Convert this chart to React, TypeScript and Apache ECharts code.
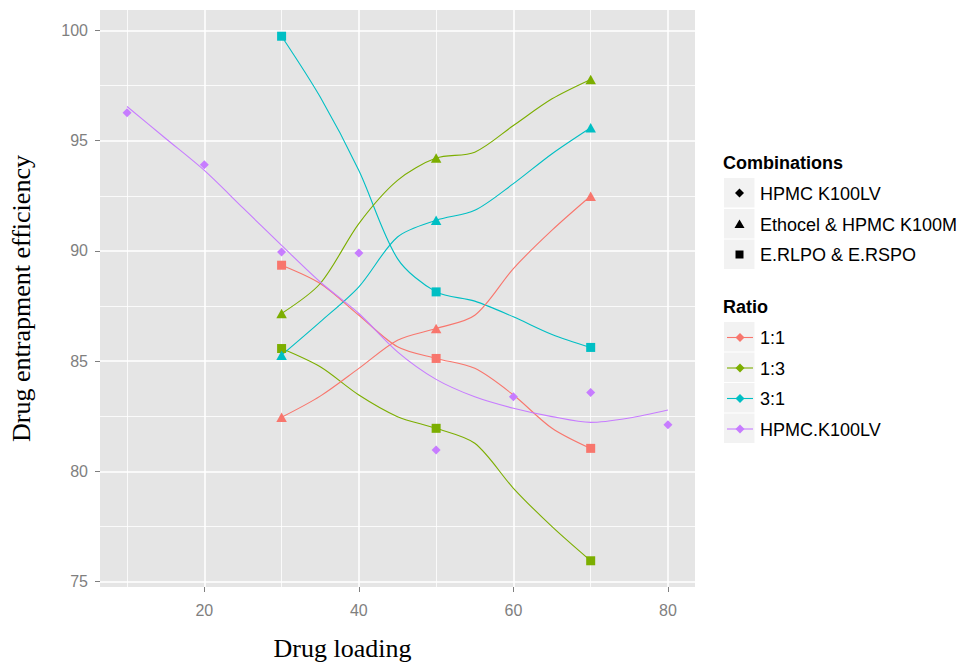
import React, { useEffect, useRef } from "react";
import * as echarts from "echarts";

// ---- data ----
const loadings = [30, 50, 70];
// E.RLPO & E.RSPO (squares)
const rlpo11 = [89.35, 85.12, 81.04];
const rlpo13 = [85.57, 81.95, 75.94];
const rlpo31 = [99.74, 88.14, 85.62];
// Ethocel & HPMC K100M (triangles)
const etho11 = [82.45, 86.48, 92.48];
const etho13 = [87.16, 94.21, 97.78];
const etho31 = [85.27, 91.39, 95.59];
// HPMC K100LV (diamonds)
const hpmcLoadings = [10, 20, 30, 40, 50, 60, 70, 80];
const hpmcValues = [96.27, 93.91, 89.95, 89.9, 80.97, 83.38, 83.58, 82.11];

// smoothed (loess) curves
const fitLoadings = [30, 35, 40, 45, 50, 55, 60, 65, 70];
const fitRlpo11 = [89.35, 88.52, 87.08, 85.65, 85.12, 84.67, 83.46, 81.95, 81.03];
const fitRlpo13 = [85.57, 84.74, 83.46, 82.48, 81.95, 81.27, 79.23, 77.49, 75.94];
const fitRlpo31 = [99.74, 96.98, 93.65, 89.65, 88.14, 87.72, 87.01, 86.21, 85.62];
const fitEtho11 = [82.45, 83.41, 84.67, 85.95, 86.48, 87.08, 89.2, 90.94, 92.49];
const fitEtho13 = [87.16, 88.52, 91.24, 93.2, 94.21, 94.48, 95.69, 96.9, 97.78];
const fitEtho31 = [85.27, 86.78, 88.37, 90.63, 91.39, 91.84, 93.05, 94.41, 95.59];
const fitHpmcLoadings = [10, 15, 20, 25, 30, 35, 40, 45, 50, 55, 60, 65, 70, 75, 80];
const fitHpmc = [96.55, 95.1, 93.65, 91.95, 90.25, 88.59, 87.16, 85.42, 84.17, 83.38, 82.86, 82.48, 82.22, 82.42, 82.78];

const xTicks = [20, 40, 60, 80];
const xMinor = [10, 30, 50, 70];
const yTicks = [75, 80, 85, 90, 95, 100];
const yMinor = [77.5, 82.5, 87.5, 92.5, 97.5];

const combinations = ["HPMC K100LV", "Ethocel & HPMC K100M", "E.RLPO & E.RSPO"];
const ratios = ["1:1", "1:3", "3:1", "HPMC.K100LV"];
const ratioColors = ["#F8766D", "#7CAE00", "#00BFC4", "#C77CFF"];

const zip = (xs: number[], ys: number[]) => xs.map((x, i) => [x, ys[i]]);

export default function App() {
  const ref = useRef<HTMLDivElement>(null);
  useEffect(() => {
    if (!ref.current) return;
    const chart = echarts.init(ref.current, undefined, { renderer: "svg" });

    const sans = "Liberation Sans";
    const lineSeries = (name: string, xs: number[], ys: number[], color: string) => ({
      name,
      type: "line",
      data: zip(xs, ys),
      smooth: 0.3,
      showSymbol: false,
      symbol: "none",
      lineStyle: { color, width: 1.1 },
      z: 8,
      silent: true,
    });
    const pointSeries = (name: string, xs: number[], ys: number[], color: string, symbol: string, size: number | number[]) => ({
      name,
      type: "scatter",
      data: zip(xs, ys),
      symbol,
      symbolSize: size,
      itemStyle: { color, opacity: 1 },
      z: 9,
    });

    const SQ = 9;
    const TRI = [10.5, 9.5];
    const DIA = 9;

    // legend graphics
    const legendEls: any[] = [];
    legendEls.push({
      type: "text", x: 723, y: 163,
      style: { text: "Combinations", font: `bold 18px '${sans}'`, fill: "#000", verticalAlign: "middle", align: "left" },
    });
    const comboY = [193.5, 224.5, 255];
    const boxTops = [178, 209, 239.5];
    combinations.forEach((c, i) => {
      legendEls.push({ type: "rect", shape: { x: 724, y: boxTops[i], width: 30.5, height: 29.5 }, style: { fill: "#F2F2F2" } });
      const cx = 739.5, cy = boxTops[i] + 15;
      if (i === 0) {
        legendEls.push({ type: "polygon", shape: { points: [[cx, cy - 4.5], [cx + 4.5, cy], [cx, cy + 4.5], [cx - 4.5, cy]] }, style: { fill: "#000" } });
      } else if (i === 1) {
        legendEls.push({ type: "polygon", shape: { points: [[cx, cy - 4.5], [cx + 5, cy + 4], [cx - 5, cy + 4]] }, style: { fill: "#000" } });
      } else {
        legendEls.push({ type: "rect", shape: { x: cx - 4, y: cy - 4, width: 8, height: 8 }, style: { fill: "#000" } });
      }
      legendEls.push({
        type: "text", x: 760, y: comboY[i],
        style: { text: c, font: `18px '${sans}'`, fill: "#000", verticalAlign: "middle", align: "left" },
      });
    });
    legendEls.push({
      type: "text", x: 723, y: 307,
      style: { text: "Ratio", font: `bold 18px '${sans}'`, fill: "#000", verticalAlign: "middle", align: "left" },
    });
    const ratioTops = [322, 352.5, 383, 413.5];
    ratios.forEach((r, i) => {
      legendEls.push({ type: "rect", shape: { x: 724, y: ratioTops[i], width: 30.5, height: 29.5 }, style: { fill: "#F2F2F2" } });
      const cx = 740, cy = ratioTops[i] + 15.5;
      legendEls.push({ type: "line", shape: { x1: 727, y1: cy, x2: 753, y2: cy }, style: { stroke: ratioColors[i], lineWidth: 1.1 } });
      legendEls.push({ type: "polygon", shape: { points: [[cx, cy - 4.5], [cx + 4.5, cy], [cx, cy + 4.5], [cx - 4.5, cy]] }, style: { fill: ratioColors[i] } });
      legendEls.push({
        type: "text", x: 760, y: cy + 0.5,
        style: { text: r, font: `18px '${sans}'`, fill: "#000", verticalAlign: "middle", align: "left" },
      });
    });
    // x axis title
    legendEls.push({
      type: "text", x: 342.5, y: 648,
      style: { text: "Drug loading", font: "26px 'Liberation Serif'", fill: "#000", verticalAlign: "middle", align: "center" },
    });

    const gridLine = (axis: "xAxis" | "yAxis", v: number, w: number) => ({ [axis]: v, lineStyle: { color: "#FFFFFF", width: w, type: "solid" } });

    chart.setOption({
      animation: false,
      grid: { left: 99, right: 270, top: 10, bottom: 75, show: true, backgroundColor: "#E5E5E5", borderWidth: 0 },
      xAxis: {
        type: "value",
        min: 6.5,
        max: 83.5,
        splitLine: { show: false },
        axisLine: { show: false },
        axisTick: { show: true, customValues: xTicks, length: 5, lineStyle: { color: "#7F7F7F", width: 1 } },
        axisLabel: { customValues: xTicks, color: "#7F7F7F", fontSize: 16, fontFamily: sans, margin: 15 },
      },
      yAxis: {
        type: "value",
        min: 74.75,
        max: 100.93,
        splitLine: { show: false },
        axisLine: { show: false },
        axisTick: { show: true, customValues: yTicks, length: 5, lineStyle: { color: "#7F7F7F", width: 1 } },
        axisLabel: { customValues: yTicks, color: "#7F7F7F", fontSize: 16, fontFamily: sans, margin: 12 },
        name: "Drug entrapment efficiency",
        nameLocation: "middle",
        nameRotate: 90,
        nameGap: 66,
        nameTextStyle: { fontFamily: "Liberation Serif", fontSize: 26, color: "#000" },
      },
      graphic: legendEls,
      series: [
        {
          name: "grid",
          type: "scatter",
          data: [],
          silent: true,
          z: 1,
          markLine: {
            silent: true,
            z: 1,
            symbol: ["none", "none"],
            label: { show: false },
            animation: false,
            data: [
              ...xMinor.map((v) => gridLine("xAxis", v, 0.8)),
              ...yMinor.map((v) => gridLine("yAxis", v, 0.8)),
              ...xTicks.map((v) => gridLine("xAxis", v, 1.5)),
              ...yTicks.map((v) => gridLine("yAxis", v, 1.5)),
            ],
          },
        },
        lineSeries("1:1 E.RLPO & E.RSPO fit", fitLoadings, fitRlpo11, ratioColors[0]),
        lineSeries("1:3 E.RLPO & E.RSPO fit", fitLoadings, fitRlpo13, ratioColors[1]),
        lineSeries("3:1 E.RLPO & E.RSPO fit", fitLoadings, fitRlpo31, ratioColors[2]),
        lineSeries("1:1 Ethocel fit", fitLoadings, fitEtho11, ratioColors[0]),
        lineSeries("1:3 Ethocel fit", fitLoadings, fitEtho13, ratioColors[1]),
        lineSeries("3:1 Ethocel fit", fitLoadings, fitEtho31, ratioColors[2]),
        lineSeries("HPMC.K100LV fit", fitHpmcLoadings, fitHpmc, ratioColors[3]),
        pointSeries("1:1 E.RLPO & E.RSPO", loadings, rlpo11, ratioColors[0], "rect", SQ),
        pointSeries("1:3 E.RLPO & E.RSPO", loadings, rlpo13, ratioColors[1], "rect", SQ),
        pointSeries("3:1 E.RLPO & E.RSPO", loadings, rlpo31, ratioColors[2], "rect", SQ),
        pointSeries("1:1 Ethocel & HPMC K100M", loadings, etho11, ratioColors[0], "triangle", TRI),
        pointSeries("1:3 Ethocel & HPMC K100M", loadings, etho13, ratioColors[1], "triangle", TRI),
        pointSeries("3:1 Ethocel & HPMC K100M", loadings, etho31, ratioColors[2], "triangle", TRI),
        pointSeries("HPMC.K100LV", hpmcLoadings, hpmcValues, ratioColors[3], "diamond", DIA),
      ],
    });
    return () => chart.dispose();
  }, []);
  return <div ref={ref} style={{ width: 965, height: 662, position: "absolute", left: 0, top: 0 }} />;
}
